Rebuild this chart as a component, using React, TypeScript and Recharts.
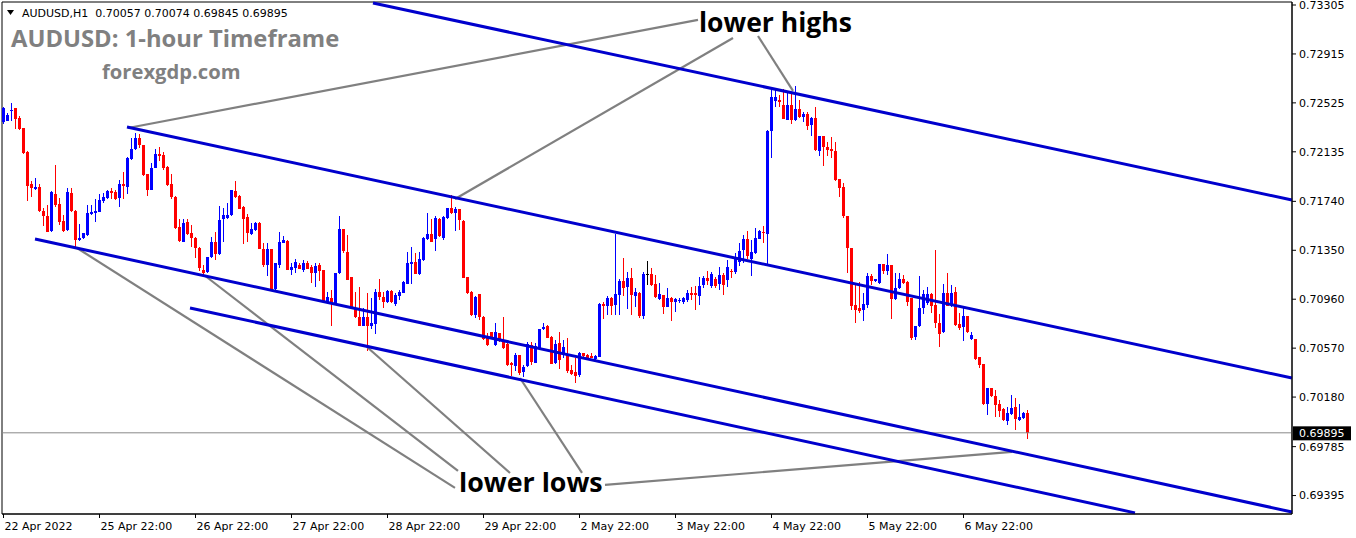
import React from "react";
import {
  ComposedChart,
  Bar,
  XAxis,
  YAxis,
  ReferenceLine,
  ReferenceArea,
} from "recharts";

const SYMBOL = "AUDUSD,H1";

// H1 bars: [open, high, low, close]
const OHLC: number[][] = [
  // 22 Apr
  [0.7237, 0.72495, 0.72362, 0.72482], [0.72381, 0.72442, 0.72375, 0.72429], [0.7246, 0.72522, 0.72375, 0.72466], [0.72482, 0.72484, 0.72314, 0.72397],
  [0.72407, 0.72421, 0.72309, 0.72317], [0.72322, 0.72324, 0.72118, 0.72123], [0.72136, 0.72138, 0.71743, 0.71865], [0.71876, 0.71903, 0.71778, 0.71844],
  [0.71839, 0.71924, 0.71831, 0.71857], [0.71852, 0.71876, 0.71653, 0.71658], [0.71663, 0.71685, 0.71538, 0.71626], [0.71626, 0.71711, 0.71493, 0.71499],
  [0.71499, 0.71823, 0.71493, 0.71812], [0.71799, 0.7203, 0.71698, 0.71711], [0.71719, 0.71764, 0.71552, 0.71573], [0.71584, 0.71631, 0.71499, 0.71504],
  [0.71512, 0.71844, 0.71505, 0.71817], [0.71804, 0.71844, 0.71653, 0.71658], [0.71666, 0.71671, 0.71379, 0.71432], [0.71427, 0.71557, 0.71419, 0.71446],
  [0.71446, 0.71488, 0.7144, 0.71485], [0.71472, 0.71711, 0.71467, 0.71645], [0.71637, 0.71711, 0.71631, 0.71653], [0.71653, 0.71759, 0.71578, 0.71666],
  // 25 Apr 22:00
  [0.71658, 0.71799, 0.71653, 0.71751], [0.71743, 0.71804, 0.71724, 0.71778], [0.71764, 0.71831, 0.71759, 0.71823], [0.71823, 0.71849, 0.71764, 0.7181],
  [0.71817, 0.71831, 0.71751, 0.71759], [0.71764, 0.7191, 0.71693, 0.71879], [0.71879, 0.71972, 0.71759, 0.71863], [0.71857, 0.72096, 0.71804, 0.72088],
  [0.72078, 0.72243, 0.72065, 0.72158], [0.72158, 0.72282, 0.7215, 0.72248], [0.72248, 0.72274, 0.72163, 0.72189], [0.72189, 0.72192, 0.71945, 0.7195],
  [0.71958, 0.7196, 0.71786, 0.71831], [0.71836, 0.72043, 0.71831, 0.72009], [0.72009, 0.72158, 0.72004, 0.72118], [0.72118, 0.72171, 0.72057, 0.72104],
  [0.7211, 0.72136, 0.7199, 0.72009], [0.72017, 0.72022, 0.71863, 0.71876], [0.71876, 0.71958, 0.71759, 0.7177], [0.71778, 0.7178, 0.7152, 0.71531],
  [0.71533, 0.716, 0.71414, 0.71419], [0.71419, 0.716, 0.71414, 0.7157], [0.71578, 0.716, 0.71472, 0.7148], [0.71485, 0.71552, 0.71379, 0.71446],
  // 26 Apr 22:00
  [0.71451, 0.71459, 0.71294, 0.71371], [0.71371, 0.71373, 0.7118, 0.71212], [0.71193, 0.71233, 0.7114, 0.71172], [0.71175, 0.71296, 0.71172, 0.71294],
  [0.71294, 0.71459, 0.7129, 0.71414], [0.71414, 0.71499, 0.71273, 0.71321], [0.71321, 0.71706, 0.71313, 0.71592], [0.716, 0.7169, 0.71419, 0.71631],
  [0.7161, 0.71724, 0.716, 0.71631], [0.71631, 0.71833, 0.71626, 0.71831], [0.71823, 0.71903, 0.7177, 0.71778], [0.71786, 0.71791, 0.7168, 0.71685],
  [0.71698, 0.71703, 0.714, 0.71605], [0.71612, 0.7164, 0.71418, 0.71485], [0.7148, 0.7157, 0.71472, 0.71517], [0.71511, 0.71575, 0.71505, 0.7157],
  [0.7157, 0.71572, 0.71358, 0.7136], [0.7136, 0.71405, 0.71214, 0.71232], [0.71232, 0.71405, 0.71139, 0.7136], [0.7136, 0.71362, 0.71033, 0.71035],
  [0.71039, 0.7125, 0.7102, 0.71246], [0.71232, 0.71498, 0.71214, 0.71413], [0.7141, 0.71464, 0.71405, 0.71432], [0.71426, 0.7143, 0.71193, 0.71196],
  // 27 Apr 22:00
  [0.71193, 0.71246, 0.71147, 0.71219], [0.71214, 0.71278, 0.71166, 0.71259], [0.71232, 0.71246, 0.71198, 0.71201], [0.71193, 0.71272, 0.71179, 0.71246],
  [0.71251, 0.71267, 0.71204, 0.71206], [0.71214, 0.71232, 0.71092, 0.71166], [0.71171, 0.71251, 0.7106, 0.71224], [0.71232, 0.71246, 0.711, 0.71187],
  [0.71193, 0.71195, 0.70932, 0.7094], [0.70932, 0.7102, 0.70922, 0.7098], [0.70967, 0.71033, 0.70749, 0.70932], [0.70922, 0.71168, 0.7092, 0.71166],
  [0.71166, 0.71623, 0.71161, 0.71517], [0.71517, 0.7152, 0.71325, 0.71339], [0.71339, 0.71472, 0.71113, 0.71118], [0.71134, 0.71136, 0.70879, 0.70887],
  [0.70887, 0.7102, 0.70813, 0.70815], [0.70821, 0.71054, 0.70741, 0.70746], [0.70746, 0.70887, 0.70744, 0.70815], [0.70815, 0.71007, 0.70542, 0.70746],
  [0.70741, 0.70967, 0.7072, 0.70767], [0.70762, 0.71039, 0.70682, 0.7102], [0.7102, 0.71118, 0.70953, 0.7098], [0.7098, 0.7102, 0.70895, 0.7094],
  // 28 Apr 22:00
  [0.7094, 0.71033, 0.70932, 0.71028], [0.71028, 0.71033, 0.70932, 0.7094], [0.70922, 0.71007, 0.709, 0.70993], [0.70985, 0.71033, 0.70953, 0.7102],
  [0.71012, 0.71102, 0.71007, 0.711], [0.71086, 0.71339, 0.71084, 0.71251], [0.71246, 0.71379, 0.71086, 0.71259], [0.71259, 0.71325, 0.71159, 0.71161],
  [0.71161, 0.71339, 0.71159, 0.7128], [0.71272, 0.71458, 0.71267, 0.7145], [0.71437, 0.71644, 0.71432, 0.7148], [0.7148, 0.71597, 0.71411, 0.71413],
  [0.71437, 0.71623, 0.71347, 0.71604], [0.71597, 0.71604, 0.71453, 0.71458], [0.71453, 0.71623, 0.71432, 0.71618], [0.71604, 0.71686, 0.71599, 0.71684],
  [0.71684, 0.7179, 0.71636, 0.71644], [0.71644, 0.71697, 0.71506, 0.71676], [0.71676, 0.71678, 0.71511, 0.71591], [0.71586, 0.71588, 0.71132, 0.71134],
  [0.71139, 0.71141, 0.71007, 0.71012], [0.7102, 0.71022, 0.70821, 0.70834], [0.70834, 0.70985, 0.70807, 0.7098], [0.71, 0.71002, 0.70795, 0.70813],
  // 29 Apr 22:00
  [0.70821, 0.70823, 0.70635, 0.70649], [0.70649, 0.70688, 0.70582, 0.7059], [0.70696, 0.70698, 0.7064, 0.70649], [0.7059, 0.70768, 0.70582, 0.70696],
  [0.70688, 0.7069, 0.70622, 0.70627], [0.70635, 0.70821, 0.70569, 0.70571], [0.70601, 0.70609, 0.70423, 0.70431], [0.70449, 0.70457, 0.70343, 0.70431],
  [0.70431, 0.70529, 0.70383, 0.70516], [0.70516, 0.70518, 0.70362, 0.7037], [0.70383, 0.70436, 0.70343, 0.70423], [0.70423, 0.70617, 0.70415, 0.70601],
  [0.70596, 0.70617, 0.70436, 0.70457], [0.70457, 0.70609, 0.70455, 0.7059], [0.70574, 0.70725, 0.70569, 0.70723], [0.70723, 0.70768, 0.70715, 0.70742],
  [0.70747, 0.70755, 0.70649, 0.70654], [0.70662, 0.70664, 0.70441, 0.70449], [0.70449, 0.70635, 0.70441, 0.70601], [0.70609, 0.70696, 0.70404, 0.70476],
  [0.70516, 0.70635, 0.70489, 0.70582], [0.70521, 0.70654, 0.70378, 0.70383], [0.70396, 0.70436, 0.70356, 0.70362], [0.70383, 0.70495, 0.70298, 0.70351],
  // 2 May 22:00
  [0.70351, 0.70542, 0.70343, 0.70529], [0.70529, 0.70531, 0.70489, 0.70503], [0.70516, 0.70521, 0.70481, 0.70484], [0.70511, 0.70529, 0.70489, 0.70495],
  [0.70484, 0.70516, 0.70478, 0.70511], [0.70503, 0.7093, 0.70497, 0.70922], [0.70922, 0.70941, 0.70803, 0.70909], [0.70909, 0.70989, 0.70835, 0.70973],
  [0.70973, 0.70975, 0.70835, 0.70909], [0.70909, 0.71478, 0.70835, 0.70999], [0.70994, 0.71122, 0.70835, 0.71106], [0.71106, 0.71286, 0.70981, 0.71052],
  [0.71052, 0.7118, 0.70888, 0.71127], [0.71127, 0.71207, 0.70835, 0.70989], [0.70989, 0.71047, 0.70893, 0.71021], [0.71007, 0.71021, 0.70813, 0.70821],
  [0.70821, 0.7118, 0.70808, 0.71159], [0.71159, 0.71265, 0.71074, 0.71159], [0.71159, 0.71207, 0.7106, 0.71074], [0.71079, 0.71153, 0.70973, 0.70975],
  [0.70962, 0.71087, 0.70954, 0.70999], [0.70994, 0.70996, 0.70848, 0.70901], [0.70901, 0.71047, 0.70899, 0.70973], [0.70973, 0.70975, 0.70787, 0.70941],
  // 3 May 22:00
  [0.70941, 0.70973, 0.70861, 0.70962], [0.70946, 0.70968, 0.70928, 0.70954], [0.70936, 0.70981, 0.70928, 0.70968], [0.70954, 0.71034, 0.70936, 0.71007],
  [0.71007, 0.7106, 0.70954, 0.70994], [0.71007, 0.71068, 0.70874, 0.70989], [0.70989, 0.7114, 0.7092, 0.71068], [0.71073, 0.71145, 0.71046, 0.71131],
  [0.71126, 0.71185, 0.71073, 0.71105], [0.7106, 0.71179, 0.71054, 0.71158], [0.71118, 0.71139, 0.71054, 0.7106], [0.71081, 0.71219, 0.71033, 0.71153],
  [0.71153, 0.71166, 0.70993, 0.71073], [0.71118, 0.71272, 0.7106, 0.71219], [0.71187, 0.71198, 0.71126, 0.71179], [0.71179, 0.71325, 0.71161, 0.71299],
  [0.71259, 0.71405, 0.71219, 0.71347], [0.71347, 0.71472, 0.71251, 0.71437], [0.71437, 0.71506, 0.71285, 0.71299], [0.71285, 0.71432, 0.71145, 0.71339],
  [0.71325, 0.71525, 0.7132, 0.71445], [0.71445, 0.71511, 0.71437, 0.71506], [0.71498, 0.71543, 0.71405, 0.7149], [0.71479, 0.72305, 0.71232, 0.72303],
  // 4 May 22:00
  [0.72303, 0.72643, 0.72083, 0.72574], [0.72542, 0.72627, 0.72494, 0.72574], [0.72548, 0.72587, 0.72494, 0.72534], [0.72508, 0.72635, 0.72393, 0.72395],
  [0.72388, 0.72601, 0.72383, 0.72508], [0.72508, 0.72601, 0.72356, 0.72388], [0.72388, 0.72659, 0.72383, 0.72473], [0.72473, 0.72548, 0.72407, 0.72409],
  [0.72409, 0.72455, 0.72375, 0.72436], [0.72436, 0.72455, 0.72308, 0.7234], [0.72348, 0.72409, 0.72261, 0.72401], [0.72401, 0.72489, 0.72136, 0.72144],
  [0.72144, 0.72263, 0.72101, 0.72261], [0.72261, 0.72263, 0.72022, 0.7217], [0.7217, 0.72215, 0.72101, 0.72149], [0.72154, 0.72255, 0.72091, 0.72136],
  [0.72144, 0.72215, 0.71908, 0.7191], [0.71915, 0.71917, 0.71777, 0.71843], [0.71851, 0.71883, 0.71604, 0.71618], [0.71623, 0.71625, 0.71171, 0.71365],
  [0.71365, 0.71367, 0.70874, 0.70906], [0.70914, 0.71073, 0.70767, 0.70874], [0.7089, 0.711, 0.70853, 0.70868], [0.70874, 0.71007, 0.70781, 0.70922],
  // 5 May 22:00
  [0.70914, 0.71166, 0.70887, 0.71145], [0.71145, 0.71161, 0.71073, 0.71108], [0.711, 0.7112, 0.71095, 0.71118], [0.71087, 0.71243, 0.71081, 0.71241],
  [0.71241, 0.71243, 0.71166, 0.71188], [0.71188, 0.7132, 0.71153, 0.71233], [0.71233, 0.71235, 0.70808, 0.70959], [0.70959, 0.71166, 0.70954, 0.71047],
  [0.71047, 0.71166, 0.71039, 0.71118], [0.71118, 0.71153, 0.71081, 0.71087], [0.711, 0.71102, 0.70901, 0.7094], [0.70967, 0.70969, 0.70635, 0.70648],
  [0.70661, 0.70749, 0.70635, 0.70747], [0.70741, 0.71145, 0.70736, 0.70887], [0.70887, 0.71033, 0.70842, 0.71002], [0.70927, 0.7106, 0.70914, 0.71002],
  [0.71002, 0.71007, 0.70847, 0.70908], [0.70914, 0.71352, 0.70728, 0.70768], [0.70773, 0.70842, 0.70582, 0.70683], [0.70693, 0.71081, 0.70688, 0.71007],
  [0.71007, 0.71166, 0.70899, 0.70901], [0.70914, 0.71073, 0.70901, 0.71012], [0.7102, 0.7106, 0.70752, 0.70754], [0.70762, 0.70847, 0.70709, 0.70728],
  // 6 May 22:00
  [0.70736, 0.70887, 0.70622, 0.70826], [0.70826, 0.70828, 0.70693, 0.70701], [0.7064, 0.70701, 0.70635, 0.70675], [0.7064, 0.70642, 0.70475, 0.70481],
  [0.70497, 0.70499, 0.70409, 0.70436], [0.70444, 0.70446, 0.70123, 0.70125], [0.70125, 0.70252, 0.70037, 0.7025], [0.7025, 0.70252, 0.70178, 0.70183],
  [0.70189, 0.70236, 0.70024, 0.70117], [0.70125, 0.70157, 0.70024, 0.70072], [0.70082, 0.7009, 0.69984, 0.69992], [0.69992, 0.70104, 0.69957, 0.70056],
  [0.70045, 0.70197, 0.70037, 0.7009], [0.70098, 0.7017, 0.69912, 0.70003], [0.69997, 0.70125, 0.69992, 0.70018], [0.70018, 0.70064, 0.7001, 0.70057],
  [0.70057, 0.70074, 0.69845, 0.69895],
];

const TICK_BARS = [0, 24, 48, 72, 96, 120, 144, 168, 192, 216, 240];
const TICK_LABELS = [
  "22 Apr 2022", "25 Apr 22:00", "26 Apr 22:00", "27 Apr 22:00", "28 Apr 22:00", "29 Apr 22:00",
  "2 May 22:00", "3 May 22:00", "4 May 22:00", "5 May 22:00", "6 May 22:00",
];
const PRICE_TICKS = [0.73305, 0.72915, 0.72525, 0.72135, 0.7174, 0.7135, 0.7096, 0.7057, 0.7018, 0.69785, 0.69395];

// drawn objects, [bar, price, bar, price]
const CHANNELS = [
  [92.375, 0.73321, 322.125, 0.71751],
  [30.875, 0.72333, 322.125, 0.70332],
  [7.875, 0.7144, 322.125, 0.69264],
  [46.625, 0.7089, 282.875, 0.69257],
];
const POINTERS = [
  [31.125, 0.72325, 173.625, 0.73186],
  [112.875, 0.71759, 182.375, 0.73042],
  [188.625, 0.73058, 197.375, 0.7262],
  [18.375, 0.71368, 112.875, 0.69456],
  [50.375, 0.71147, 113.625, 0.69591],
  [90.875, 0.70579, 126.625, 0.69575],
  [129.125, 0.70332, 144.625, 0.69575],
  [150.375, 0.6948, 252.125, 0.69743],
];

const X_DOMAIN = [-0.375, 322.125];
const Y_DOMAIN = [0.69248, 0.73329];

const BULL = "#0000ff";
const BEAR = "#ff0000";
const AXIS_FONT = "DejaVu Sans";

const rows = OHLC.map(([o, h, l, c], i) => ({ i, o, h, l, c, range: [l, h] }));
const last = OHLC[OHLC.length - 1];

const Candle = (props: any) => {
  const { x, y, width, height, payload } = props;
  if (x == null || y == null || !payload) return null;
  const { o, h, l, c } = payload;
  const top = Math.min(y, y + height);
  const span = Math.abs(height);
  const k = h - l > 0 ? span / (h - l) : 0;
  const yO = top + (h - o) * k;
  const yC = top + (h - c) * k;
  const doji = Math.abs(c - o) < 0.00002;
  const color = doji ? "#000" : c > o ? BULL : BEAR;
  const bx = Math.round(x + width / 2 - 1.5);
  const bTop = Math.round(Math.min(yO, yC));
  const bH = Math.max(1, Math.round(Math.abs(yC - yO)));
  return (
    <g shapeRendering="crispEdges">
      <rect x={bx + 1} y={Math.round(top)} width={1} height={Math.max(1, Math.round(span))} fill={color} />
      <rect x={bx} y={bTop} width={3} height={bH} fill={color} />
    </g>
  );
};

const DateTick = (props: any) => {
  const { x, y, payload } = props;
  const idx = TICK_BARS.indexOf(payload.value);
  return (
    <text x={x + 1} y={y + 10} fill="#000" fontSize={11} fontFamily={AXIS_FONT} textAnchor="start">
      {TICK_LABELS[idx]}
    </text>
  );
};

const PriceTag = (props: any) => {
  const vb = props.viewBox || {};
  const x = vb.x + vb.width + 1;
  const y = vb.y;
  return (
    <g>
      <rect x={x} y={y - 6.5} width={58} height={14} fill="#000" />
      <text x={x + 6} y={y} dy="0.36em" fill="#fff" fontSize={11} fontFamily={AXIS_FONT}>
        {last[3].toFixed(5)}
      </text>
    </g>
  );
};

export default function App() {
  const header = `${SYMBOL}  ${last.map((v) => v.toFixed(5)).join(" ")}`;
  return (
    <div style={{ position: "absolute", left: 0, top: 0, width: 1356, height: 538, background: "#fff" }}>
      <ComposedChart width={1356} height={538} data={rows} margin={{ top: 2, right: 0, bottom: 0, left: 2 }}>
        <XAxis
          dataKey="i"
          type="number"
          domain={X_DOMAIN}
          allowDataOverflow
          ticks={TICK_BARS}
          interval={0}
          height={24}
          tickSize={4}
          tickMargin={2}
          tick={<DateTick />}
          axisLine={{ stroke: "#000" }}
          tickLine={{ stroke: "#000" }}
        />
        <YAxis
          orientation="right"
          width={64}
          domain={Y_DOMAIN}
          allowDataOverflow
          ticks={PRICE_TICKS}
          interval={0}
          tickSize={4}
          tickMargin={3}
          tickFormatter={(v: number) => v.toFixed(5)}
          tick={{ fill: "#000", fontSize: 11, fontFamily: AXIS_FONT }}
          axisLine={{ stroke: "#000" }}
          tickLine={{ stroke: "#000" }}
        />
        <ReferenceArea
          x1={X_DOMAIN[0]}
          x2={X_DOMAIN[1]}
          y1={Y_DOMAIN[0]}
          y2={Y_DOMAIN[1]}
          fill="none"
          stroke="#000"
          fillOpacity={0}
          ifOverflow="visible"
        />
        <ReferenceLine y={last[3]} stroke="#888" strokeWidth={1} label={(p: any) => <PriceTag {...p} />} />
        <Bar dataKey="range" barSize={3} shape={(p: any) => <Candle {...p} />} isAnimationActive={false} />
        {POINTERS.map((s, n) => (
          <ReferenceLine
            key={"p" + n}
            segment={[{ x: s[0], y: s[1] }, { x: s[2], y: s[3] }]}
            stroke="#808080"
            strokeWidth={2.2}
            ifOverflow="visible"
          />
        ))}
        {CHANNELS.map((s, n) => (
          <ReferenceLine
            key={"c" + n}
            segment={[{ x: s[0], y: s[1] }, { x: s[2], y: s[3] }]}
            stroke="#0000cd"
            strokeWidth={3}
            ifOverflow="visible"
          />
        ))}
      </ComposedChart>
      <svg width={1356} height={538} style={{ position: "absolute", left: 0, top: 0, pointerEvents: "none" }}>
        <polygon points="7,10 14,10 10.5,15" fill="#000" />
        <text x={22} y={17} fontSize={11} fontFamily={AXIS_FONT} fill="#000" style={{ whiteSpace: "pre" }}>
          {header}
        </text>
        <text x={11} y={46.5} fontSize={23.8} fontWeight={700} fontFamily="Open Sans" fill="#808080">
          AUDUSD: 1-hour Timeframe
        </text>
        <text x={102} y={79} fontSize={20.2} fontWeight={700} fontFamily="Open Sans" fill="#808080">
          forexgdp.com
        </text>
        <text x={699} y={31.5} fontSize={26.5} fontWeight={700} fontFamily="Open Sans" fill="#000">
          lower highs
        </text>
        <text x={459} y={491.5} fontSize={26.8} fontWeight={700} fontFamily="Open Sans" fill="#000">
          lower lows
        </text>
      </svg>
    </div>
  );
}
